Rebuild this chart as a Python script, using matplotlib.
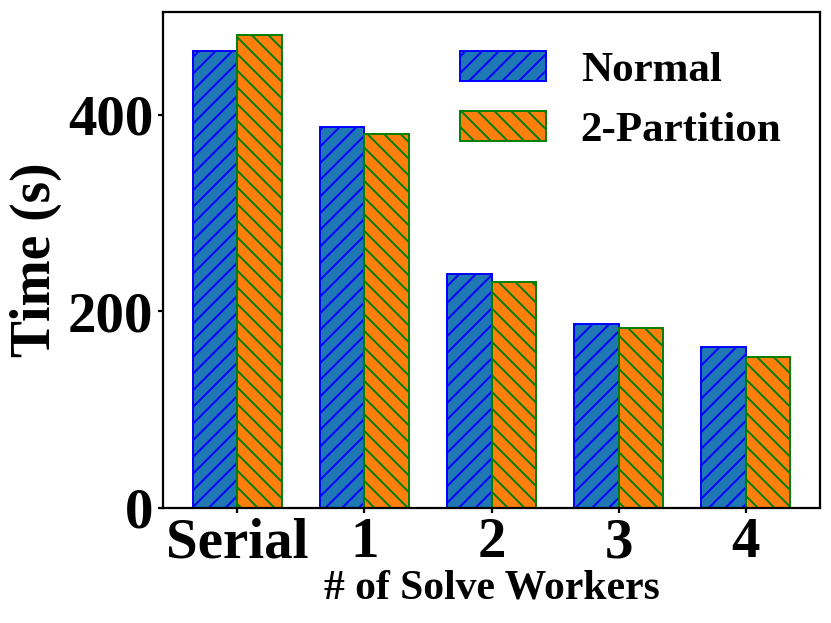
import matplotlib
matplotlib.use("Agg")
import matplotlib.pyplot as plt
import numpy as np

# values
categories = ["Serial", "1", "2", "3", "4"]
normal = [465, 388, 238, 187, 164]
partition2 = [481, 381, 230, 183, 154]

plt.rcParams["font.family"] = ["Liberation Serif", "DejaVu Serif"]
plt.rcParams["font.weight"] = "bold"
plt.rcParams["axes.linewidth"] = 1.6
plt.rcParams["hatch.linewidth"] = 1.4

fig = plt.figure(figsize=(8.31, 6.23), dpi=100)
ax = fig.add_axes([0.196, 0.185, 0.791, 0.796])

x = np.arange(len(categories))
width = 0.35
ax.bar(x - width / 2, normal, width, color="#1f77b4", edgecolor="blue",
       linewidth=1.4, hatch="//", label="Normal")
ax.bar(x + width / 2, partition2, width, color="#ff7f0e", edgecolor="green",
       linewidth=1.4, hatch="\\\\", label="2-Partition")

ax.set_xticks(x)
ax.set_xticklabels(categories)
ax.set_yticks([0, 200, 400])
ax.tick_params(axis="both", labelsize=41, width=1.6)
for lbl in ax.get_xticklabels() + ax.get_yticklabels():
    lbl.set_fontweight("bold")

ax.set_ylabel("Time (s)", fontsize=40, fontweight="bold")
ax.set_xlabel("# of Solve Workers", fontsize=30, fontweight="bold", labelpad=0)

ax.legend(loc="upper right", frameon=False, prop={"size": 31, "weight": "bold"})

fig.savefig("out.png", dpi=100)
